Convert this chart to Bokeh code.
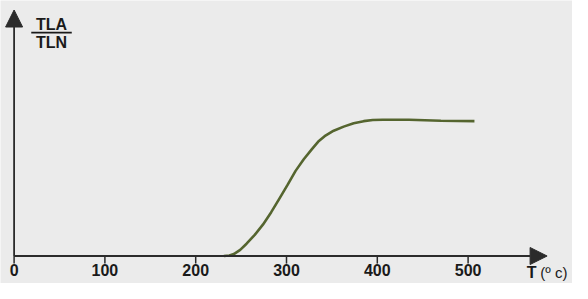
from bokeh.plotting import figure
from bokeh.models import Range1d, Arrow, NormalHead, Label, BoxAnnotation
from bokeh.core.properties import value
from bokeh.embed import file_html
from bokeh.resources import INLINE

# Data
temp = [231, 237, 242, 249, 256, 265, 274, 283, 292, 301, 310, 319, 328, 335,
        342, 352, 363, 374, 385, 395, 406, 435, 470, 507]
ratio = [0.0, 0.004, 0.014, 0.045, 0.09, 0.155, 0.23, 0.32, 0.42, 0.52, 0.625,
         0.71, 0.785, 0.84, 0.88, 0.92, 0.95, 0.975, 0.99, 0.998, 1.0, 1.0,
         0.993, 0.99]
x_ticks = [0, 100, 200, 300, 400, 500]
x_tick_labels = [str(t) for t in x_ticks]

BG = "#ebebeb"
INK = "#2b2b2b"
TXT = "#1a1a1a"
PXY = 136.2   # pixels per y unit
PXX = 0.908   # pixels per x unit
X0 = 13.6     # canvas x of data 0
Y0 = 255.5    # canvas y of data 0 (from top)
W, H = 572, 283

p = figure(width=W, height=H, x_range=Range1d(-X0 / PXX, (W - X0) / PXX),
           y_range=Range1d(-(H - Y0) / PXY, Y0 / PXY),
           output_backend="svg", toolbar_location=None,
           min_border=0, min_border_left=0, min_border_right=0,
           min_border_top=0, min_border_bottom=0)
p.background_fill_color = BG
p.border_fill_color = BG
p.outline_line_color = None
p.grid.visible = False
p.xaxis.visible = False
p.yaxis.visible = False

label_top = -(263 - Y0) / PXY

# ticks and tick labels on the x axis
p.segment(x0=x_ticks, y0=[0] * len(x_ticks), x1=x_ticks, y1=[-7.6 / PXY] * len(x_ticks),
          line_color=INK, line_width=1.5)
p.text(x=x_ticks, y=[label_top] * len(x_ticks), text=x_tick_labels,
       text_align="center", text_baseline="top",
       text_font=value("Liberation Sans"), text_font_style="bold",
       text_font_size="16px", text_color=TXT)

# axes with arrowheads
p.add_layout(Arrow(end=NormalHead(size=17, fill_color=INK, line_color=INK),
                   x_start=0, y_start=0, x_end=587, y_end=0,
                   line_color=INK, line_width=1.8))
p.add_layout(Arrow(end=NormalHead(size=17, fill_color=INK, line_color=INK),
                   x_start=0, y_start=0, x_end=0, y_end=(Y0 - 9.5) / PXY,
                   line_color=INK, line_width=1.8))

# curve
p.line(temp, ratio, line_color="#55652f", line_width=2.6)

# y label as fraction
p.add_layout(Label(x=41.2, y=(Y0 - 15.5) / PXY, text="TLA", text_align="center",
                   text_baseline="top", text_font="Liberation Sans",
                   text_font_style="bold", text_font_size="16px", text_color=TXT))
p.add_layout(Label(x=41.2, y=(Y0 - 33.5) / PXY, text="TLN", text_align="center",
                   text_baseline="top", text_font="Liberation Sans",
                   text_font_style="bold", text_font_size="16px", text_color=TXT))
p.add_layout(BoxAnnotation(left=18.9, right=63.5, bottom=(Y0 - 33.0) / PXY,
                           top=(Y0 - 31.3) / PXY,
                           fill_color=TXT, fill_alpha=1, line_color=None))

# x label
p.add_layout(Label(x=(536 - X0) / PXX, y=label_top, text="T", text_align="right",
                   text_baseline="top", text_font="Liberation Sans",
                   text_font_style="bold", text_font_size="16px", text_color=TXT))
p.add_layout(Label(x=(567 - X0) / PXX, y=label_top, text="(º c)", text_align="right",
                   text_baseline="top", text_font="Liberation Sans",
                   text_font_size="15px", text_color=TXT))

open("out.html", "w").write(file_html(p, INLINE))
